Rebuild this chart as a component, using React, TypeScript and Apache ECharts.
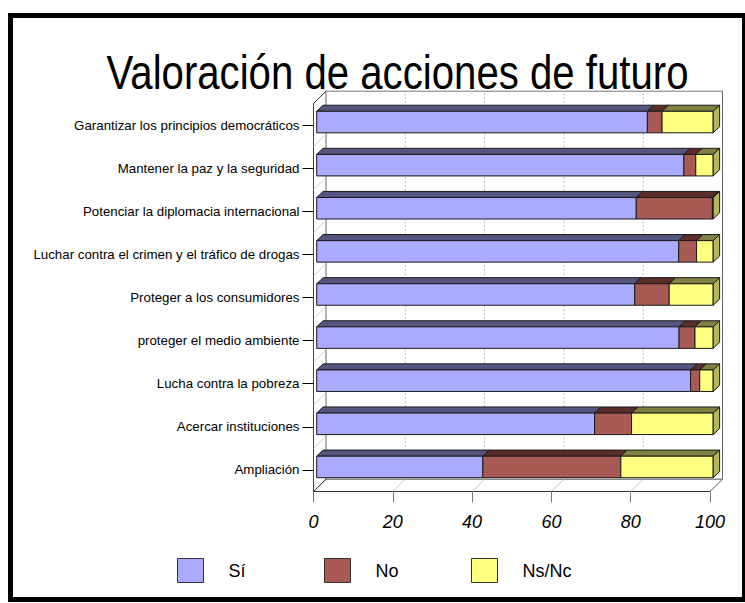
import React, { useEffect, useRef } from "react";
import * as echarts from "echarts";

const TITLE = "Valoración de acciones de futuro";
const CATEGORIES = [
  "Garantizar los principios democráticos",
  "Mantener la paz y la seguridad",
  "Potenciar la diplomacia internacional",
  "Luchar contra el crimen y el tráfico de drogas",
  "Proteger a los consumidores",
  "proteger el medio ambiente",
  "Lucha contra la pobreza",
  "Acercar instituciones",
  "Ampliación",
];
const SI = [83.4, 92.6, 80.6, 91.3, 80.2, 91.4, 94.3, 70.1, 41.9];
const NO = [3.7, 3.0, 19.2, 4.5, 8.7, 4.0, 2.3, 9.3, 34.8];
const NSNC = [12.9, 4.4, 0.2, 4.2, 11.1, 4.6, 3.4, 20.6, 23.3];
const SERIES_NAMES = ["Sí", "No", "Ns/Nc"];
const X_TICKS = [0, 20, 40, 60, 80, 100];

const FONT = '"Liberation Sans", Arial, sans-serif';
const FRONT = ["#aaaaff", "#aa5a55", "#ffff80"];
const TOP = ["#55557f", "#5a2c2a", "#808040"];
const SIDE = ["#7f7fbf", "#804340", "#b5b55a"];

// 3D geometry (pixels)
const FLOOR_DX = 12.5;
const FLOOR_DY = 12.3;
const BAR_OFF_X = 3.2;
const BAR_OFF_Y = 3.0;
const BAR_DX = 6.4;
const BAR_DY = 6.1;
const BAR_H = 21.5;

export default function App() {
  const ref = useRef<HTMLDivElement>(null);
  useEffect(() => {
    if (!ref.current) return;
    const chart = echarts.init(ref.current, null, { renderer: "svg" });

    const stacks = [SI, NO, NSNC];
    const seriesData = stacks.map((arr, s) =>
      arr.map((v, i) => {
        let start = 0;
        for (let k = 0; k < s; k++) start += stacks[k][i];
        return [start, start + v, i];
      })
    );

    const barSeries = SERIES_NAMES.map((name, s) => ({
      type: "custom",
      name,
      coordinateSystem: "cartesian2d",
      encode: { x: [0, 1], y: 2 },
      itemStyle: { color: FRONT[s], borderColor: "#333", borderWidth: 1 },
      clip: false,
      silent: true,
      z: 5,
      data: seriesData[s],
      renderItem: (params: any, api: any) => {
        const start = api.value(0);
        const end = api.value(1);
        const cat = api.value(2);
        const p0 = api.coord([start, cat]);
        const p1 = api.coord([end, cat]);
        const x0 = p0[0] + BAR_OFF_X;
        const x1 = p1[0] + BAR_OFF_X;
        const cy = p0[1] - BAR_OFF_Y;
        const yT = cy - BAR_H / 2;
        const yB = cy + BAR_H / 2;
        const stroke = { stroke: "#1a1a1a", lineWidth: 1 };
        const children: any[] = [
          {
            type: "polygon",
            shape: {
              points: [
                [x0, yT],
                [x1, yT],
                [x1 + BAR_DX, yT - BAR_DY],
                [x0 + BAR_DX, yT - BAR_DY],
              ],
            },
            style: { fill: TOP[s], ...stroke },
          },
          {
            type: "rect",
            shape: { x: x0, y: yT, width: Math.max(x1 - x0, 0), height: BAR_H },
            style: { fill: FRONT[s], ...stroke },
          },
        ];
        if (s === SERIES_NAMES.length - 1) {
          children.push({
            type: "polygon",
            shape: {
              points: [
                [x1, yT],
                [x1 + BAR_DX, yT - BAR_DY],
                [x1 + BAR_DX, yB - BAR_DY],
                [x1, yB],
              ],
            },
            style: { fill: SIDE[s], ...stroke },
          });
        }
        return { type: "group", children };
      },
    }));

    const frameSeries = {
      type: "custom",
      name: "frame",
      coordinateSystem: "cartesian2d",
      encode: { x: 0, y: 1 },
      clip: false,
      silent: true,
      z: 1,
      data: X_TICKS.map((t) => [t, 0]),
      renderItem: (params: any, api: any) => {
        const cs = params.coordSys;
        const top = cs.y;
        const bottom = cs.y + cs.height;
        const left = cs.x;
        const right = cs.x + cs.width;
        const v = api.value(0);
        const x = api.coord([v, 0])[0];
        const edge = v === X_TICKS[0] || v === X_TICKS[X_TICKS.length - 1];
        const dark = "#555";
        const light = "#c4c4c4";
        const children: any[] = [
          {
            type: "line",
            shape: { x1: x, y1: bottom, x2: x + FLOOR_DX, y2: bottom - FLOOR_DY },
            style: { stroke: edge ? dark : light, lineWidth: 1 },
          },
          {
            type: "line",
            shape: {
              x1: x + FLOOR_DX,
              y1: bottom - FLOOR_DY,
              x2: x + FLOOR_DX,
              y2: top - FLOOR_DY,
            },
            style: edge
              ? { stroke: "#666", lineWidth: 1 }
              : { stroke: "#b8b8b8", lineWidth: 1, lineDash: [2, 2] },
          },
        ];
        if (v === X_TICKS[0]) {
          children.push({
            type: "line",
            shape: { x1: left + FLOOR_DX, y1: bottom - FLOOR_DY, x2: right + FLOOR_DX, y2: bottom - FLOOR_DY },
            style: { stroke: dark, lineWidth: 1 },
          });
          children.push({
            type: "line",
            shape: { x1: left + FLOOR_DX, y1: top - FLOOR_DY, x2: right + FLOOR_DX, y2: top - FLOOR_DY },
            style: { stroke: "#777", lineWidth: 1 },
          });
          const n = CATEGORIES.length;
          const band = cs.height / n;
          for (let k = 0; k <= n; k++) {
            const y = top + k * band;
            children.push({
              type: "line",
              shape: { x1: left, y1: y, x2: left + FLOOR_DX, y2: y - FLOOR_DY },
              style: { stroke: k === 0 || k === n ? "#333" : "#cfcfcf", lineWidth: 1 },
            });
          }
        }
        return { type: "group", children };
      },
    };

    const legends = SERIES_NAMES.map((name, s) => ({
      data: [name],
      left: [177, 324, 471][s],
      top: 558,
      padding: 0,
      icon: "rect",
      itemWidth: 26,
      itemHeight: 24,
      selectedMode: false,
      itemStyle: { borderColor: "#333", borderWidth: 1 },
      textStyle: { fontSize: 18, color: "#000", fontFamily: FONT, padding: [0, 0, 0, 20] },
    }));

    chart.setOption({
      animation: false,
      backgroundColor: "#fff",
      grid: {
        left: 313.5,
        right: 35,
        top: 103.5,
        bottom: 111.5,
        containLabel: false,
        outerBoundsMode: "none",
      },
      xAxis: {
        type: "value",
        min: 0,
        max: 100,
        interval: 20,
        axisLine: { show: true, lineStyle: { color: "#333", width: 1 } },
        axisTick: { show: true, length: 11, lineStyle: { color: "#777" } },
        splitLine: { show: false },
        axisLabel: {
          color: "#000",
          fontSize: 18,
          fontStyle: "italic",
          fontFamily: FONT,
          margin: 21,
        },
      },
      yAxis: {
        type: "category",
        inverse: true,
        data: CATEGORIES,
        axisLine: { show: true, lineStyle: { color: "#444", width: 1 } },
        axisTick: { show: true, alignWithLabel: true, length: 11, lineStyle: { color: "#000" } },
        splitLine: { show: false },
        axisLabel: { color: "#000", fontSize: 13.3, fontFamily: FONT, margin: 14 },
      },
      legend: legends,
      graphic: [
        {
          type: "rect",
          shape: { x: 10.5, y: 15.5, width: 734, height: 584 },
          style: { fill: "none", stroke: "#000", lineWidth: 5 },
          silent: true,
          z: 100,
        },
        {
          type: "text",
          x: 397.5,
          y: 72,
          scaleX: 0.837,
          style: {
            text: TITLE,
            font: `48px ${FONT}`,
            fill: "#000",
            textAlign: "center",
            textVerticalAlign: "middle",
          },
          silent: true,
        },
      ],
      series: [frameSeries, ...barSeries],
    });

    return () => chart.dispose();
  }, []);

  return (
    <div
      ref={ref}
      style={{ position: "absolute", left: 0, top: 0, width: 745, height: 603 }}
    />
  );
}
